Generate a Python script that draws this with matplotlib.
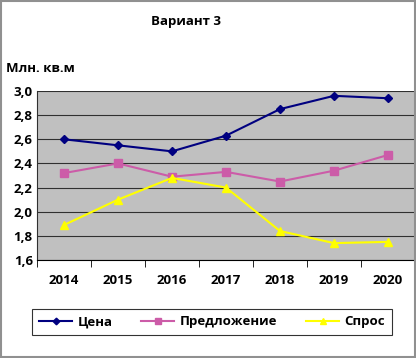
import matplotlib.pyplot as plt
from matplotlib.ticker import FixedLocator

plt.rcParams['font.family'] = ['Open Sans', 'DejaVu Sans']

# данные
years = ['2014', '2015', '2016', '2017', '2018', '2019', '2020']
cena = [2.60, 2.55, 2.50, 2.63, 2.85, 2.96, 2.94]
predlozhenie = [2.32, 2.40, 2.29, 2.33, 2.25, 2.34, 2.47]
spros = [1.89, 2.10, 2.28, 2.20, 1.84, 1.74, 1.75]
y_ticks = [1.6, 1.8, 2.0, 2.2, 2.4, 2.6, 2.8, 3.0]

fig = plt.figure(figsize=(4.16, 3.58), dpi=100)
fig.patch.set_facecolor('white')

# рамка вокруг всей диаграммы
fig.patches.append(plt.Rectangle((0.002, 0.002), 0.996, 0.996, transform=fig.transFigure,
                                 fill=False, edgecolor='#909090', linewidth=1.5))

ax = fig.add_axes([37 / 416, 1 - 260 / 358, 378 / 416, 169 / 358])
ax.set_facecolor('#C0C0C0')

x = list(range(len(years)))
ax.plot(x, cena, color='#000080', marker='D', markersize=4.5, linewidth=1.5, label='Цена')
ax.plot(x, predlozhenie, color='#CC5CA8', marker='s', markersize=5.5, linewidth=1.5, label='Предложение')
ax.plot(x, spros, color='#FFFF00', marker='^', markersize=5.5, linewidth=1.5, label='Спрос')

ax.set_xlim(-0.5, len(years) - 0.5)
ax.set_ylim(1.6, 3.0)
ax.set_yticks(y_ticks)
ax.set_yticklabels([('%.1f' % v).replace('.', ',') for v in y_ticks],
                   fontsize=9.5, fontweight='bold')
ax.yaxis.grid(True, color='#303030', linewidth=0.8)
ax.set_axisbelow(True)

ax.set_xticks(x)
ax.set_xticklabels(years, fontsize=9.5, fontweight='bold')
ax.tick_params(axis='x', length=0, pad=10)
ax.xaxis.set_minor_locator(FixedLocator([i - 0.5 for i in range(len(years) + 1)]))
ax.tick_params(axis='x', which='minor', length=5, direction='out', color='black')
ax.tick_params(axis='y', length=0, pad=3)

for side in ['top', 'right']:
    ax.spines[side].set_visible(False)
ax.spines['left'].set_color('#303030')
ax.spines['bottom'].set_color('black')

fig.text(186 / 416, 1 - 22 / 358, 'Вариант 3', ha='center', va='center',
         fontsize=9.5, fontweight='bold')
fig.text(6 / 416, 1 - 68 / 358, 'Млн. кв.м', ha='left', va='center',
         fontsize=9.5, fontweight='bold')

leg = fig.legend(loc='center', bbox_to_anchor=(212 / 416, 1 - 322 / 358), ncol=3,
                 frameon=True, fancybox=False, edgecolor='black',
                 prop={'size': 9.5, 'weight': 'bold'}, handlelength=2.5,
                 handletextpad=0.4, columnspacing=2.2, borderpad=0.5,
                 markerscale=0.75)
leg.get_frame().set_linewidth(0.8)

fig.savefig('out.png', dpi=100)
